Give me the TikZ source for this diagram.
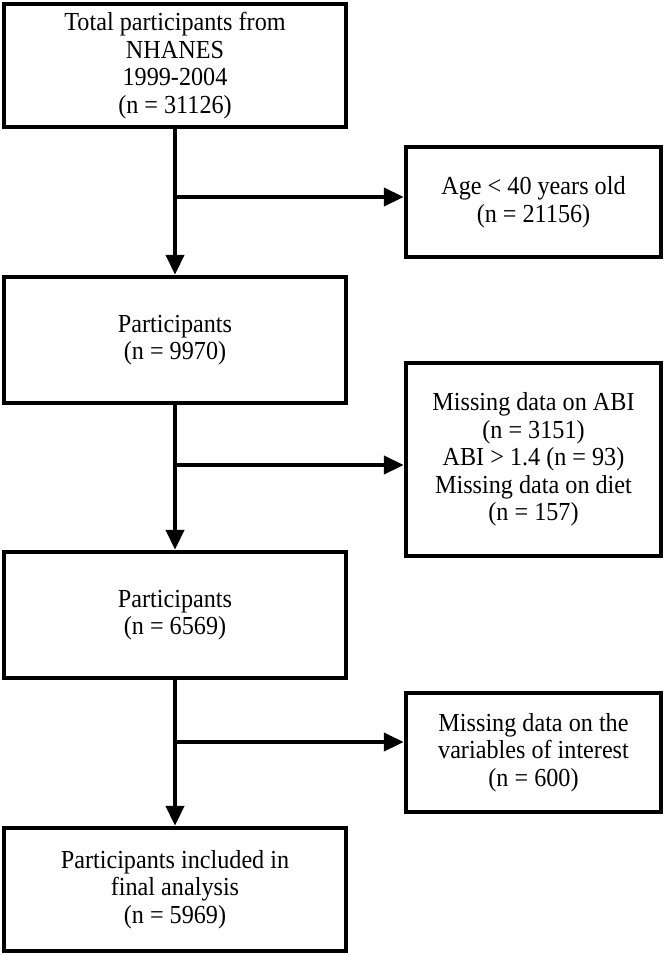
\documentclass[tikz,border=0pt]{standalone}
\usepackage{fontspec}
\setmainfont{Liberation Serif}[FakeStretch=0.93]
\usetikzlibrary{arrows.meta}

\begin{document}
\begin{tikzpicture}[x=1pt, y=-1pt,
    mainbox/.style={draw=black, line width=4.5pt, minimum width=342pt, inner sep=0pt, align=center, font=\fontsize{26}{27.5}\selectfont},
    exclbox/.style={mainbox, minimum width=255pt},
    flow/.style={line width=4.5pt, -{Triangle[length=20pt, width=18pt]}}]
    \useasboundingbox (0,0) rectangle (666,955);
%% left column: the participants that remain
    \node[mainbox, minimum height=123pt] (total) at (175,65.5) {Total participants from\\NHANES\\1999-2004\\(n = 31126)};
    \node[mainbox, minimum height=126pt] (part1) at (175,340) {Participants\\(n = 9970)};
    \node[mainbox, minimum height=126pt] (part2) at (175,615) {Participants\\(n = 6569)};
    \node[mainbox, minimum height=123pt] (final) at (175,889.5) {Participants included in\\final analysis\\(n = 5969)};
%% right column: the exclusions
    \node[exclbox, minimum height=110pt] (excl1) at (533.5,202) {Age < 40 years old\\(n = 21156)};
    \node[exclbox, minimum height=193pt] (excl2) at (533.5,459.5) {Missing data on ABI\\(n = 3151)\\ABI > 1.4 (n = 93)\\Missing data on diet\\(n = 157)};
    \node[exclbox, minimum height=119pt] (excl3) at (533.5,752.5) {Missing data on the\\variables of interest\\(n = 600)};
    \coordinate (br1) at (175,197);
    \coordinate (br2) at (175,465);
    \coordinate (br3) at (175,742);
    \draw[flow] (total) -- (part1);
    \draw[flow] (part1) -- (part2);
    \draw[flow] (part2) -- (final);
    \draw[flow] (br1) -- (excl1.west |- br1);
    \draw[flow] (br2) -- (excl2.west |- br2);
    \draw[flow] (br3) -- (excl3.west |- br3);
\end{tikzpicture}
\end{document}
